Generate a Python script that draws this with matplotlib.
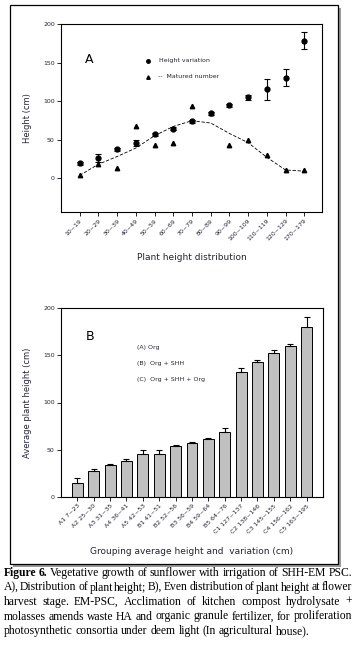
import numpy as np
import matplotlib
matplotlib.use("Agg")
import matplotlib.pyplot as plt
from matplotlib.patches import Rectangle

# Panel A: plant height distribution
dist_labels = ["10~19", "20~29", "30~39", "40~49", "50~59", "60~69", "70~79",
               "80~89", "90~99", "100~109", "110~119", "120~129", "170~179"]
height_mean = [19.5, 26.5, 37.5, 46, 57, 64, 74, 84, 94.5, 105, 115, 130.5, 178]
height_err = [2, 5, 2, 4, 2, 2, 2, 2, 2, 3, 13, 11, 11]
matured = [3.5, 18.5, 13, 67, 42.5, 45.5, 94, 84, 42.5, 49, 30, 10, 10]
matured_curve = [3.5, 18, 28, 39, 55, 67, 74.5, 71.5, 58, 46, 27, 10.5, 9]

# Panel B: grouping average height
group_labels = ["A1 7~23", "A2 25~30", "A3 31~35", "A4 36~41", "A5 42~53",
                "B1 41~51", "B2 52~56", "B3 56~59", "B4 59~64", "B5 64~76",
                "C1 127~137", "C2 138~146", "C3 145~155", "C4 156~162", "C5 163~195"]
group_mean = [15, 28, 33.5, 38.5, 46, 46, 54, 57.5, 61.5, 69, 132, 143, 152.5, 160, 180]
group_err = [5, 2, 1, 2, 4, 4, 1, 0.8, 1, 4, 4, 2, 3, 2, 11]

W, H = 357, 647
fig = plt.figure(figsize=(W / 100, H / 100), dpi=100)
fig.patch.set_facecolor("white")

# outer frame with shadow
fig.add_artist(Rectangle((13 / W, 1 - 567 / H), 328 / W, 559 / H,
                         transform=fig.transFigure, facecolor="#9a9a9a",
                         edgecolor="none", zorder=0))
fig.add_artist(Rectangle((10 / W, 1 - 564 / H), 328 / W, 559 / H,
                         transform=fig.transFigure, facecolor="white",
                         edgecolor="black", lw=0.9, zorder=0.5))

txt_col = "#23233a"
tick_fs = 4.5


def style_axes(ax):
    for s in ax.spines.values():
        s.set_linewidth(0.8)
    ax.tick_params(axis="both", direction="out", length=3, width=0.6,
                   labelsize=tick_fs, pad=1.5, labelcolor=txt_col)


# ---- Panel A ----
axA = fig.add_axes([61 / W, 1 - 212 / H, 261 / W, 188 / H])
axA.set_zorder(2)
x = np.arange(1, len(dist_labels) + 1)
axA.errorbar(x, height_mean, yerr=height_err, fmt="o", color="black",
             ms=3.5, elinewidth=0.8, capsize=2.5, capthick=0.8)
axA.plot(x, matured, "^", color="black", ms=3.2, lw=0)
axA.plot(x, matured_curve, "--", color="black", lw=0.6, dashes=(4, 2))
axA.set_xlim(0, 13.95)
axA.set_ylim(-44, 200)
axA.set_yticks([0, 50, 100, 150, 200])
axA.set_xticks(x)
axA.set_xticklabels(dist_labels, rotation=45, ha="right", rotation_mode="anchor")
style_axes(axA)
axA.set_ylabel("Height (cm)", fontsize=6, color=txt_col, labelpad=8)
axA.set_xlabel("Plant height distribution", fontsize=6.5, color=txt_col, labelpad=8)
axA.text(0.09, 0.79, "A", transform=axA.transAxes, fontsize=9, color="black")
axA.plot([0.335], [0.805], "o", color="black", ms=2.5, transform=axA.transAxes)
axA.text(0.375, 0.805, "Height variation", transform=axA.transAxes,
         fontsize=4.5, color=txt_col, va="center")
axA.plot([0.335], [0.72], "^", color="black", ms=2.5, transform=axA.transAxes)
axA.text(0.37, 0.72, "--  Matured number", transform=axA.transAxes,
         fontsize=4.5, color=txt_col, va="center")

# ---- Panel B ----
axB = fig.add_axes([61 / W, 1 - 497 / H, 262 / W, 189 / H])
axB.set_zorder(2)
xb = np.arange(1, len(group_labels) + 1)
axB.bar(xb, group_mean, width=0.66, color="#c0c0c0", edgecolor="black", lw=0.7)
axB.errorbar(xb, group_mean, yerr=[np.zeros(len(group_err)), group_err],
             fmt="none", ecolor="black", elinewidth=0.8, capsize=2.5, capthick=0.8)
axB.set_xlim(0, 16)
axB.set_ylim(0, 200)
axB.set_yticks([0, 50, 100, 150, 200])
axB.set_xticks(xb)
axB.set_xticklabels(group_labels, rotation=45, ha="right", rotation_mode="anchor")
style_axes(axB)
axB.set_ylabel("Average plant height (cm)", fontsize=6, color=txt_col, labelpad=8)
axB.set_xlabel("Grouping average height and  variation (cm)", fontsize=6.5,
               color=txt_col, labelpad=9)
axB.text(0.095, 0.83, "B", transform=axB.transAxes, fontsize=9, color="black")
for i, t in enumerate(["(A) Org", "(B)  Org + SHH", "(C)  Org + SHH + Org"]):
    axB.text(0.29, 0.79 - i * 0.083, t, transform=axB.transAxes,
             fontsize=4.5, color=txt_col, va="center")

# ---- Caption, justified ----
cap_lines = [
    "Vegetative growth of sunflower with irrigation of SHH-EM PSC.",
    "A), Distribution of plant height; B), Even distribution of plant height at flower",
    "harvest stage. EM-PSC, Acclimation of kitchen compost hydrolysate +",
    "molasses amends waste HA and organic granule fertilizer, for proliferation",
    "photosynthetic consortia under deem light (In agricultural house).",
]
cap_fs = 8.4
cap_font = "Liberation Serif"
x0, x1 = 3.5, 352
renderer = fig.canvas.get_renderer()

for li, line in enumerate(cap_lines):
    y = 1 - (573 + li * 14.5) / H
    words = line.split(" ")
    items = []
    if li == 0:
        items += [("Figure", "bold"), ("6.", "bold")]
    items += [(w, "normal") for w in words]
    arts = []
    for w, wt in items:
        t = fig.text(0, y, w, fontsize=cap_fs, family=cap_font, weight=wt,
                     va="center", ha="left", color="black")
        arts.append(t)
    widths = [a.get_window_extent(renderer).width for a in arts]
    total = sum(widths)
    if li < len(cap_lines) - 1:
        gap = (x1 - x0 - total) / (len(arts) - 1)
    else:
        gap = cap_fs * 0.25 * 100 / 72
    xp = x0
    for a, wdt in zip(arts, widths):
        a.set_x(xp / W)
        xp += wdt + gap

fig.savefig("out.png", dpi=100)
